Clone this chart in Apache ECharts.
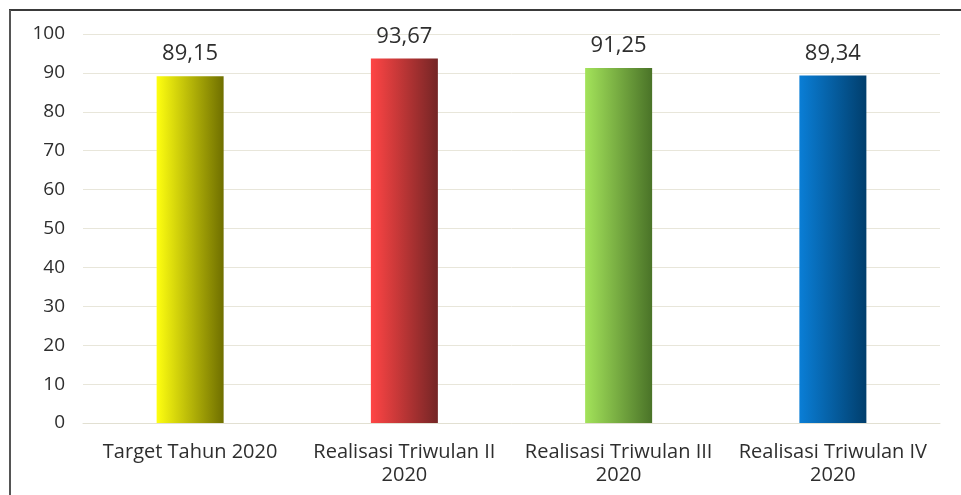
<!DOCTYPE html>
<html><head><meta charset="utf-8">
<script src="https://cdn.jsdelivr.net/npm/echarts@6/dist/echarts.min.js"></script>
<style>html,body{margin:0;padding:0;background:#fff}#c{width:961px;height:495px}</style>
</head><body><div id="c"></div>
<script>
const categories = ['Target Tahun 2020', 'Realisasi Triwulan II\n2020', 'Realisasi Triwulan III\n2020', 'Realisasi Triwulan IV\n2020'];
const values = [89.15, 93.67, 91.25, 89.34];
const valueLabels = ['89,15', '93,67', '91,25', '89,34'];
const yTicks = [0, 10, 20, 30, 40, 50, 60, 70, 80, 90, 100];
const gradients = [
  ['#ffff10', '#6f6f00'],
  ['#ff4545', '#742525'],
  ['#a3e35a', '#4a7328'],
  ['#0a7ed6', '#013e6c']
];
const font = '"Open Sans", "Noto Sans", sans-serif';
const chart = echarts.init(document.getElementById('c'));
chart.setOption({
  animation: false,
  grid: { left: 83, right: 21, top: 34, bottom: 72, containLabel: false },
  graphic: [
    { type: 'line', shape: { x1: 9, y1: 10, x2: 961, y2: 10 }, style: { stroke: '#3a3a3a', lineWidth: 2 } },
    { type: 'line', shape: { x1: 10, y1: 10, x2: 10, y2: 495 }, style: { stroke: '#555555', lineWidth: 2 } }
  ],
  xAxis: {
    type: 'category',
    data: categories,
    axisLine: { show: true, lineStyle: { color: '#e2e0d2', width: 1 } },
    axisTick: { show: false },
    axisLabel: { color: '#2e2e2e', fontFamily: font, fontSize: 20, lineHeight: 23, margin: 18, interval: 0 }
  },
  yAxis: {
    type: 'value',
    min: yTicks[0], max: yTicks[yTicks.length - 1], interval: 10,
    axisLine: { show: false },
    axisTick: { show: false },
    splitLine: { lineStyle: { color: '#e8e6da', width: 1 } },
    axisLabel: { color: '#2e2e2e', fontFamily: font, fontSize: 19, margin: 18 }
  },
  series: [{
    type: 'bar',
    barWidth: 67,
    data: values.map((v, i) => ({
      value: v,
      itemStyle: {
        color: new echarts.graphic.LinearGradient(0, 0, 1, 0, [
          { offset: 0, color: gradients[i][0] },
          { offset: 1, color: gradients[i][1] }
        ])
      }
    })),
    label: {
      show: true, position: 'top', distance: 11,
      color: '#2e2e2e', fontFamily: font, fontSize: 22,
      formatter: p => valueLabels[p.dataIndex]
    }
  }]
});
</script></body></html>
